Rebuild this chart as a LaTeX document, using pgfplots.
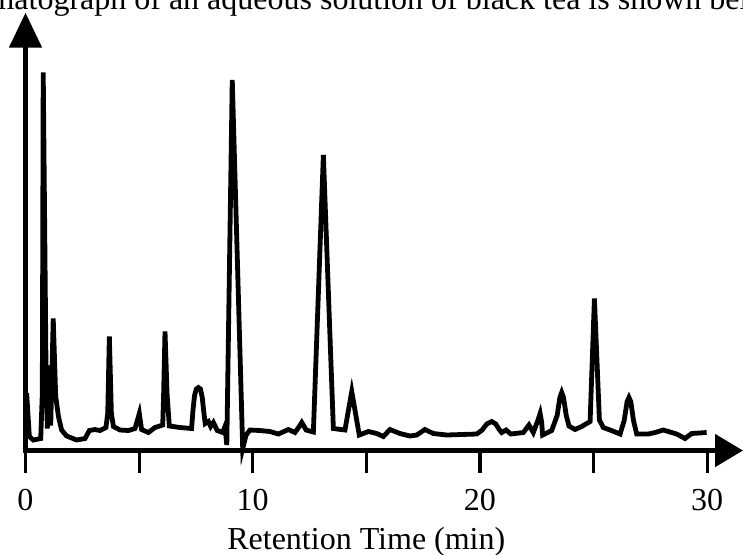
\documentclass[border=0pt]{standalone}
\usepackage{fontspec}
\setmainfont{Liberation Serif}
\usepackage{pgfplots}
\pgfplotsset{compat=1.18}
\usetikzlibrary{arrows.meta}

% chromatogram trace, time in min, signal in arbitrary units
\pgfplotstableread{
t v
0.05 57.5
0.17 14
0.34 10.5
0.67 12
0.74 57
0.78 378
0.90 90
0.96 22
1.05 85
1.11 25
1.22 132
1.33 54
1.45 34
1.59 20.5
1.81 14.5
2.25 10.5
2.62 12
2.81 20
3.06 21
3.28 20
3.54 23
3.62 37
3.69 114
3.78 37
3.87 24
4.16 20.5
4.53 20
4.82 22
5.01 37
5.11 21
5.41 18
5.70 23
6.04 25.5
6.08 57
6.14 119
6.23 57
6.33 24.5
6.80 23
7.31 22
7.37 40
7.44 55
7.52 61.5
7.61 63
7.70 61.5
7.78 53
7.85 38
7.91 27
8.05 29
8.15 24
8.27 28
8.44 20
8.68 18
8.78 24
8.86 5.5
9.10 370.5
9.56 2
9.71 15.5
9.88 20.5
10.32 20
10.76 19
11.13 16.5
11.57 21
11.86 18
12.08 25
12.16 28
12.24 25
12.35 20.5
12.67 18.5
13.11 295.5
13.55 22
14.06 20.5
14.36 59
14.69 15.5
15.09 19
15.46 17
15.75 14
16.04 21
16.48 17
16.92 14.5
17.22 15.5
17.58 21
17.95 17
18.54 15.5
19.86 16.5
20.10 20.5
20.30 26.5
20.52 29
20.70 26.5
20.85 21
20.96 18
21.15 20.5
21.36 16.5
21.91 18
22.16 25.5
22.35 18
22.55 30
22.65 37
22.72 28
22.76 15.5
23.16 20
23.40 35
23.52 53
23.60 58
23.68 53
23.80 35
23.92 24.5
24.19 21
24.48 24
24.85 29
25.04 152
25.26 30.5
25.43 23
25.73 20.5
26.17 16.5
26.35 30
26.48 49
26.56 53
26.64 49
26.76 30
26.90 16.5
27.41 16.5
27.71 18
28.07 20.5
28.66 16.5
29.03 12
29.32 17
29.98 18
}\tea

\begin{document}
\begin{tikzpicture}
\begin{axis}[
    at={(12.75pt,51.75pt)}, anchor=origin,
    x=11.36pt, y=0.5pt,
    xmin=0, xmax=31.58, ymin=0, ymax=437.8,
    axis lines=left,
    clip=false,
    x axis line style={line width=2.5pt, line cap=rect, -{Triangle[length=14pt,width=16pt]}},
    y axis line style={line width=2.5pt, line cap=rect, -{Triangle[length=17.5pt,width=16pt]}},
    xtick={0,5,...,30},
    xticklabels={0,,10,,20,,30},
    ytick=\empty,
    tick align=outside,
    major tick length=11pt,
    every tick/.style={black, line width=1.6pt},
    xticklabel style={font=\fontsize{16}{19}\selectfont, anchor=base, yshift=-19pt},
    xlabel={Retention Time (min)},
    xlabel style={at={(axis cs:15,-99)}, anchor=base, inner sep=0pt, font=\fontsize{16}{19}\selectfont},
]
\addplot[black, line width=2.4pt, mark=none] table[x=t, y=v] {\tea};
\end{axis}
\node[anchor=base west, inner sep=0pt, font=\fontsize{16}{19}\selectfont]
    at (7pt,272.25pt) {\llap{chrom}atograph of an aqueous solution of black tea is shown below};
\pgfresetboundingbox
\useasboundingbox (0,0) rectangle (371.5pt,277pt);
\end{tikzpicture}
\end{document}
